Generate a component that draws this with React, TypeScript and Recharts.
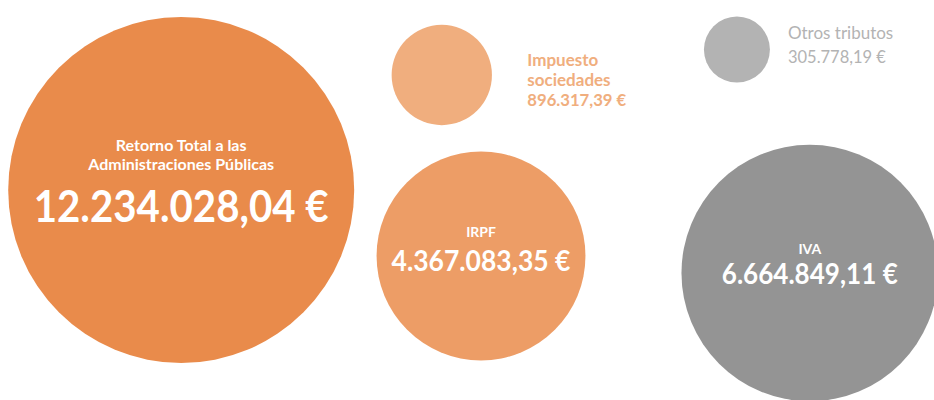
import React from 'react'
import { ScatterChart, Scatter, XAxis, YAxis, ZAxis } from 'recharts'

// Retorno a las Administraciones Públicas (euros)
const concepts = ['Total', 'Impuesto sociedades', 'IRPF', 'Otros tributos', 'IVA']
const amounts = [12234028.04, 896317.39, 4367083.35, 305778.19, 6664849.11]
const amountLabels = ['12.234.028,04 €', '896.317,39 €', '4.367.083,35 €', '305.778,19 €', '6.664.849,11 €']
const titleLines = [
  ['Retorno Total a las', 'Administraciones Públicas'],
  ['Impuesto', 'sociedades'],
  ['IRPF'],
  ['Otros tributos'],
  ['IVA'],
]

// where each bubble sits, in chart units (0-100 both ways)
const posX = [19.4, 47.3, 51.5, 78.9, 86.7]
const posY = [47.5, 18.75, 64, 12.4, 68.25]

const data = concepts.map((c, i) => ({
  idx: i,
  name: c,
  x: posX[i],
  y: posY[i],
  value: amounts[i],
}))

const FONT = 'Lato, "Open Sans", sans-serif'

// label styling per bubble
const styles: any[] = [
  { fill: '#E98B4B', inside: true, titleSize: 16, titleDy: [-46, -27], valueSize: 44, valueDy: 15, valueLen: 295 },
  { fill: '#F0AE7E', inside: false, dx: 85.5, size: 17, lineDy: [-16, 4.5, 24], weight: 700, valueLen: 99 },
  { fill: '#ED9D66', inside: true, titleSize: 14, titleDy: [-25], valueSize: 29, valueDy: 3, valueLen: 179 },
  { fill: '#B3B3B3', inside: false, dx: 51, size: 17, lineDy: [-17, 7], weight: 400, valueLen: 98 },
  { fill: '#949494', inside: true, titleSize: 14, titleDy: [-25], valueSize: 28, valueDy: 0, valueLen: 176 },
]

function Bubble(props: any) {
  const { cx, cy, payload } = props
  const size = props.size ?? Math.PI * Math.pow((props.width || 0) / 2, 2)
  const r = Math.sqrt(size / Math.PI)
  const i = payload.idx
  const st = styles[i]
  const lines = titleLines[i]
  if (st.inside) {
    return (
      <g>
        <circle cx={cx} cy={cy} r={r} fill={st.fill} />
        {lines.map((l: string, k: number) => (
          <text key={k} x={cx} y={cy + st.titleDy[k]} textAnchor="middle" dominantBaseline="central"
            fill="#fff" fontFamily={FONT} fontWeight={700} fontSize={st.titleSize}>{l}</text>
        ))}
        <text x={cx} y={cy + st.valueDy} textAnchor="middle" dominantBaseline="central" fill="#fff"
          fontFamily={FONT} fontWeight={700} fontSize={st.valueSize}
          textLength={st.valueLen} lengthAdjust="spacingAndGlyphs">{amountLabels[i]}</text>
      </g>
    )
  }
  const all = [...lines, amountLabels[i]]
  return (
    <g>
      <circle cx={cx} cy={cy} r={r} fill={st.fill} />
      {all.map((l: string, k: number) => (
        <text key={k} x={cx + st.dx} y={cy + st.lineDy[k]} dominantBaseline="central" fill={st.fill}
          fontFamily={FONT} fontWeight={st.weight} fontSize={st.size}
          {...(k === all.length - 1 ? { textLength: st.valueLen, lengthAdjust: 'spacingAndGlyphs' } : {})}>{l}</text>
      ))}
    </g>
  )
}

export default function App() {
  return (
    <div style={{ position: 'absolute', left: 0, top: 0, width: 934, height: 400, background: '#fff', overflow: 'hidden' }}>
      <ScatterChart width={934} height={400} margin={{ top: 0, right: 0, bottom: 0, left: 0 }}>
        <XAxis type="number" dataKey="x" domain={[0, 100]} hide allowDataOverflow />
        <YAxis type="number" dataKey="y" domain={[0, 100]} hide reversed allowDataOverflow />
        <ZAxis type="number" dataKey="value" domain={[0, 'dataMax']} range={[1096, 94025]} />
        <Scatter data={data} shape={<Bubble />} isAnimationActive={false} />
      </ScatterChart>
    </div>
  )
}
